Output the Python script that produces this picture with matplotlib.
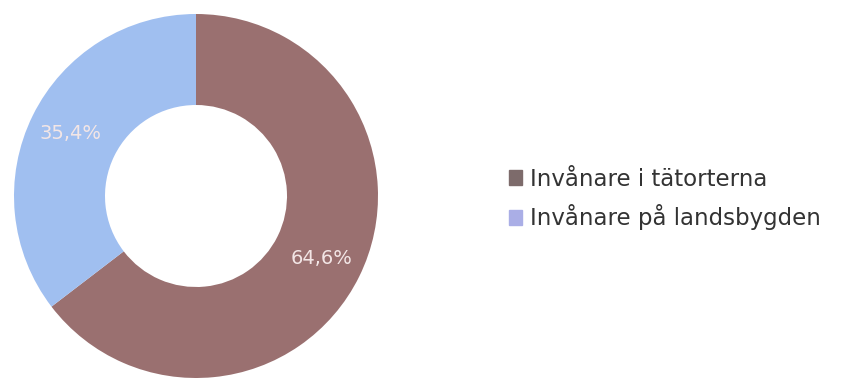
import numpy as np
import matplotlib.pyplot as plt
from matplotlib.patches import Patch

labels = ['Invånare i tätorterna', 'Invånare på landsbygden']
values = [64.6, 35.4]
pct_labels = ['64,6%', '35,4%']
colors = ['#9a7070', '#a0bff0']
legend_colors = ['#7d6b6b', '#aaaee6']

fig = plt.figure(figsize=(8.46, 3.78), dpi=100)
ax = fig.add_axes([14 / 846, 0, 364 / 846, 364 / 378])

wedges, _ = ax.pie(values, colors=colors, startangle=90, counterclock=False,
                   radius=1, wedgeprops=dict(width=0.5, linewidth=0))
ax.set_xlim(-1, 1)
ax.set_ylim(-1, 1)
ax.set_aspect('equal')

# percentage labels in the middle of each wedge
for w, txt in zip(wedges, pct_labels):
    ang = np.deg2rad((w.theta1 + w.theta2) / 2)
    ax.text(0.77 * np.cos(ang), 0.77 * np.sin(ang), txt, ha='center', va='center',
            fontsize=14, color='#f3e6e6')

handles = [Patch(color=c) for c in legend_colors]
fig.legend(handles, labels, loc='center left', bbox_to_anchor=(488 / 846, 1 - 199 / 378),
           frameon=False, fontsize=16.5, handlelength=0.6, handleheight=0.6,
           handletextpad=0.35, labelspacing=0.6, labelcolor='#333333')

fig.savefig('out.png', dpi=100)
